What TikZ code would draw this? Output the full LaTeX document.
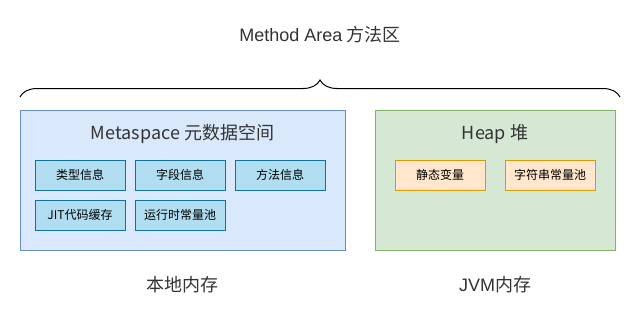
\documentclass[tikz,border=0pt]{standalone}
\usepackage{fontspec}
\setmainfont{Noto Sans CJK SC}
\newfontfamily\arialfont{Liberation Sans}
\usetikzlibrary{positioning,decorations.pathreplacing}

\definecolor{metafill}{HTML}{DAE8FC}
\definecolor{metaline}{HTML}{6C8EBF}
\definecolor{itemfill}{HTML}{B1DDF0}
\definecolor{itemline}{HTML}{10739E}
\definecolor{heapfill}{HTML}{D5E8D4}
\definecolor{heapline}{HTML}{82B366}
\definecolor{varfill}{HTML}{FFE6CC}
\definecolor{varline}{HTML}{D79B00}
\definecolor{txt}{HTML}{333333}

\tikzset{
  area/.style={draw, line width=0.75pt, minimum height=105pt, inner sep=0pt},
  item/.style={draw=itemline, fill=itemfill, line width=0.75pt,
    minimum width=67.5pt, minimum height=22.5pt, inner sep=0pt, font=\fontsize{9}{11}\selectfont},
  var/.style={item, draw=varline, fill=varfill},
  title/.style={text=txt, font=\fontsize{13.5}{16}\selectfont}
}

\begin{document}
\begin{tikzpicture}[x=0.75pt,y=-0.75pt]
  \useasboundingbox (0,0) rectangle (641,321);

  % method area
  \node[title] (method) at (320,35) {{\arialfont Method Area} 方法区};
  \coordinate (braceL) at (20,97);
  \coordinate (braceR) at (620,97);
  \draw[decorate, decoration={brace, amplitude=12.75pt}, line width=0.75pt]
    (braceL) -- (braceR);

  % the two areas
  \node[area, draw=metaline, fill=metafill, minimum width=243.75pt] (meta) at (182.5,180) {};
  \node[area, draw=heapline, fill=heapfill, minimum width=180pt] (heap) at (495,180) {};
  \node[title] (metatitle) at (182.5,134) {Metaspace 元数据空间};
  \node[title] (heaptitle) at (495,134) {Heap 堆};

  % metaspace contents
  \node[item] (type)   at (80,175)  {类型信息};
  \node[item] (field)  at (180,175) {字段信息};
  \node[item] (method2) at (280,175) {方法信息};
  \node[item] (jit)    at (80,215)  {JIT代码缓存};
  \node[item] (pool)   at (180,215) {运行时常量池};

  % heap contents
  \node[var] (static) at (440,175) {静态变量};
  \node[var] (strpool) at (550,175) {字符串常量池};

  % bottom labels
  \node[title] (native) at (182,285) {本地内存};
  \node[title] (jvm) at (495,285) {{\arialfont JVM}内存};
\end{tikzpicture}
\end{document}
